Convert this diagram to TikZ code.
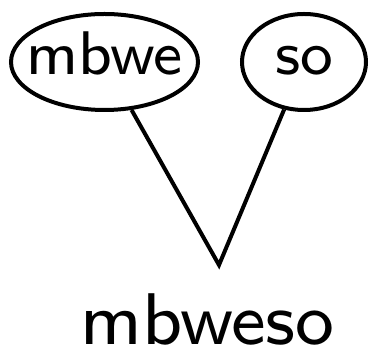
\documentclass[tikz,border=0pt]{standalone}
\usepackage{fontspec}
\usetikzlibrary{shapes.geometric}
\newcommand{\topfont}[1]{\makebox[0pt]{\raisebox{-13pt}[0pt][0pt]{\scalebox{7.7}{\sffamily\fontsize{8}{10}\selectfont #1}}}}
\newcommand{\botfont}[1]{\scalebox{9.15}{\sffamily\fontsize{8}{10}\selectfont #1}}
\begin{document}
\begin{tikzpicture}[x=1pt,y=1pt,
  ell/.style={draw,ellipse,line width=4pt,inner sep=0pt},
  conn/.style={line width=4pt,line join=miter}]
\useasboundingbox (0,0) rectangle (369,347);
\node[ell,minimum width=187pt,minimum height=96pt] (e1) at (104.5,285) {\topfont{mbwe}};
\node[ell,minimum width=124pt,minimum height=96pt] (e2) at (304,285) {\topfont{so}};
\coordinate (apex) at (219,82);
\node[anchor=base,inner sep=0pt] (res) at (207.5,2.5) {\botfont{mbweso}};
\draw[conn] (e1) -- (apex) -- (e2);
\end{tikzpicture}
\end{document}
